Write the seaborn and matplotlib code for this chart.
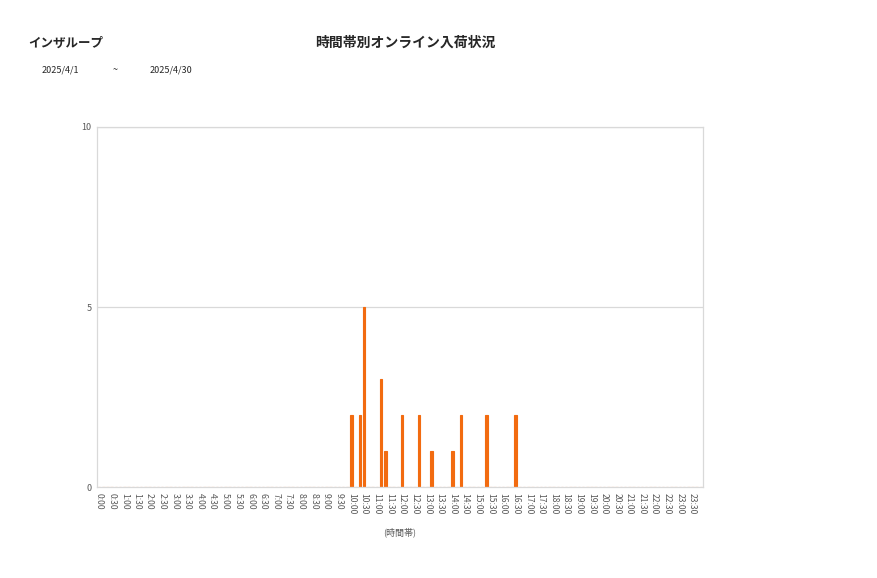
import matplotlib
matplotlib.use("Agg")
import matplotlib.pyplot as plt
import seaborn as sns
import pandas as pd

# 10-minute slots through the day; only every third slot is labelled
slot_hours = [h for h in range(24) for _ in range(6)]
slot_minutes = [m for _ in range(24) for m in (0, 10, 20, 30, 40, 50)]
slots = [f"{h}:{m:02d}" for h, m in zip(slot_hours, slot_minutes)]

# slots with arrivals
hit_slots = ["10:00", "10:20", "10:30", "11:10", "11:20", "12:00",
             "12:40", "13:10", "14:00", "14:20", "15:20", "16:30"]
hit_counts = [2, 2, 5, 3, 1, 2, 2, 1, 1, 2, 2, 2]

shop_name = "インザループ"
chart_title = "時間帯別オンライン入荷状況"
date_from = "2025/4/1"
date_to = "2025/4/30"
x_label = "(時間帯)"
y_ticks = [0, 5, 10]

counts = pd.Series(hit_counts, index=hit_slots).reindex(slots, fill_value=0)
df = pd.DataFrame({"slot": slots, "count": counts.values})

sns.set_theme(style="white")
plt.rcParams["font.family"] = ["Noto Sans CJK JP", "DejaVu Sans"]

fig = plt.figure(figsize=(8.77, 5.78), dpi=100)
ax = fig.add_axes([0.1106, 0.1574, 0.691, 0.6229])

bar_color = "#F26B10"
sns.barplot(data=df, x="slot", y="count", order=slots, color=bar_color,
            saturation=1, width=0.6, edgecolor=bar_color, linewidth=0.8, ax=ax)

ax.set_xlim(-0.5, len(slots) - 0.5)
ax.set_ylim(0, 10)
ax.set_yticks(y_ticks)
ax.set_yticklabels([str(v) for v in y_ticks], fontsize=6.5, color="#595959")
label_pos = list(range(0, len(slots), 3))
ax.set_xticks(label_pos)
ax.set_xticklabels([slots[i] for i in label_pos], rotation=-90, fontsize=6.2,
                   color="#595959")
ax.tick_params(axis="both", length=0, pad=4)
ax.set_xlabel(x_label, fontsize=6.5, color="#595959", labelpad=10)
ax.set_ylabel("")

for v in y_ticks[1:]:
    ax.axhline(v, color="#D9D9D9", lw=0.9, zorder=0)
for s in ax.spines.values():
    s.set_color("#D9D9D9")
    s.set_linewidth(0.9)

fig.text(28 / 877, 1 - 43 / 578, shop_name, fontsize=9, fontweight="bold",
         va="center", ha="left")
fig.text(405 / 877, 1 - 43 / 578, chart_title, fontsize=10, fontweight="bold",
         va="center", ha="center")
fig.text(42 / 877, 1 - 70 / 578, date_from, fontsize=6.5, va="center", ha="left")
fig.text(113 / 877, 1 - 70 / 578, "~", fontsize=6.5, va="center", ha="left")
fig.text(150 / 877, 1 - 70 / 578, date_to, fontsize=6.5, va="center", ha="left")

fig.savefig("out.png", dpi=100)
